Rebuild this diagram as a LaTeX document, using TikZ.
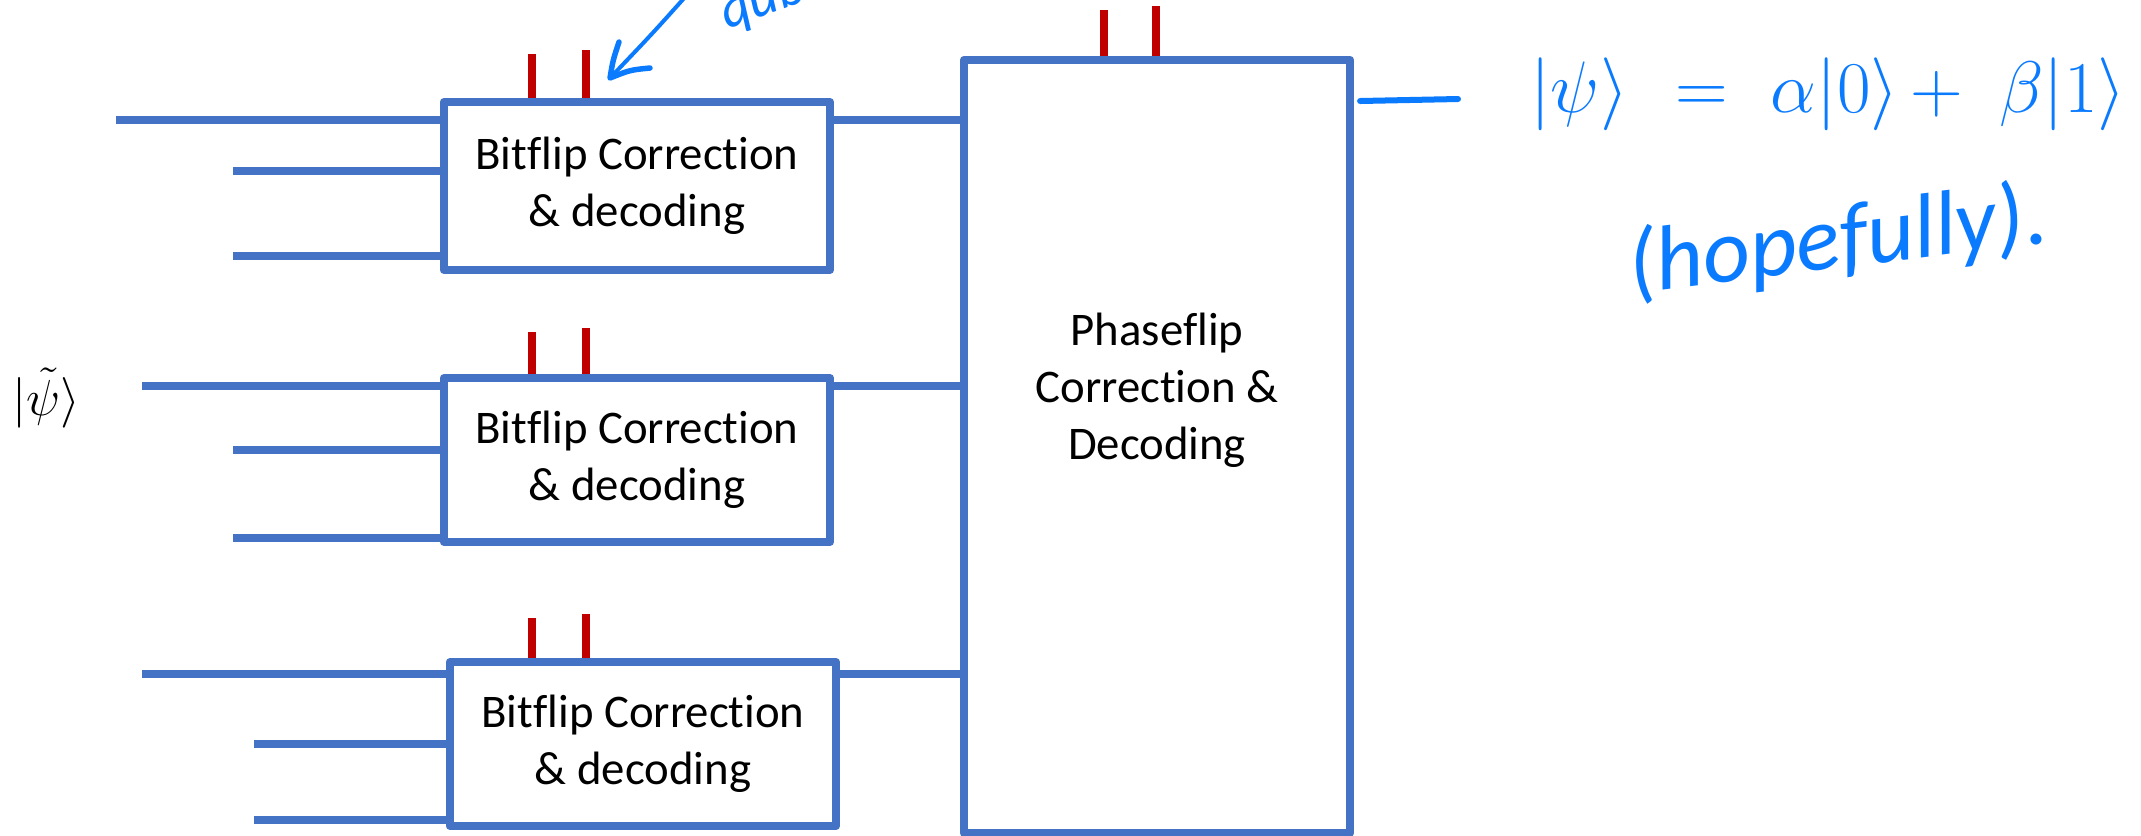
\documentclass[tikz,border=0pt]{standalone}
\usepackage{fontspec}
\setmainfont{Carlito}[Ligatures={NoCommon,NoRequired,NoContextual}]
\usetikzlibrary{calc}

\definecolor{wire}{RGB}{68,114,196}
\definecolor{meas}{RGB}{192,0,0}
\definecolor{ink}{RGB}{10,122,255}

\begin{document}
\begin{tikzpicture}[x=0.01cm,y=-0.01cm,
  wireline/.style={draw=wire,line width=0.08cm},
  blockbox/.style={draw=wire,line width=0.08cm,line join=round,fill=white,
    inner sep=0pt,outer sep=0pt,align=center,
    font=\fontsize{13.3}{16.2}\selectfont},
  classical/.style={draw=meas,line width=0.08cm},
  inkstroke/.style={draw=ink,line cap=round,line join=round},
  inktext/.style={text=ink,inner sep=0pt}]

\useasboundingbox (0,0) rectangle (2141,835);

% encoded input state
\node[anchor=base west,inner sep=0pt,font=\fontsize{15}{18}\selectfont] (psi) at (12,415) {$|\tilde{\psi}\rangle$};

% free ends of the nine input wires
\coordinate (i11) at (116,120);
\coordinate (i12) at (233,171);
\coordinate (i13) at (233,256);
\coordinate (i21) at (142,386);
\coordinate (i22) at (233,450);
\coordinate (i23) at (233,538);
\coordinate (i31) at (142,674);
\coordinate (i32) at (254,744);
\coordinate (i33) at (254,820);

% syndrome (classical) outputs, drawn under the boxes
\draw[classical] ($(637,102)+(-105,0)$) -- ++(0,-48);
\draw[classical] ($(637,102)+(-51,0)$) -- ++(0,-52);
\draw[classical] ($(637,378)+(-105,0)$) -- ++(0,-46);
\draw[classical] ($(637,378)+(-51,0)$) -- ++(0,-50);
\draw[classical] ($(643,662)+(-111,0)$) -- ++(0,-44);
\draw[classical] ($(643,662)+(-57,0)$) -- ++(0,-48);
\draw[classical] ($(1157,60)+(-53,0)$) -- ++(0,-50);
\draw[classical] ($(1157,60)+(-1,0)$) -- ++(0,-54);

% correction blocks
\node[blockbox,minimum width=3.86cm,minimum height=1.68cm] (b1) at (637,186) {Bitflip Correction\\\& decoding};
\node[blockbox,minimum width=3.86cm,minimum height=1.64cm] (b2) at (637,460) {Bitflip Correction\\\& decoding};
\node[blockbox,minimum width=3.86cm,minimum height=1.64cm] (b3) at (643,744) {Bitflip Correction\\\& decoding};
\node[blockbox,minimum width=3.86cm,minimum height=7.73cm] (pf) at (1157,446.5) {};
\node[align=center,inner sep=0pt,font=\fontsize{13.3}{16.2}\selectfont] (pftext) at (1157,390) {Phaseflip\\Correction \&\\Decoding};

% qubit wires into the bitflip blocks
\foreach \w/\b in {i11/b1,i12/b1,i13/b1,i21/b2,i22/b2,i23/b2,i31/b3,i32/b3,i33/b3}
  \draw[wireline] (\w) -- (\w -| \b.west);

% decoded qubits into the phaseflip block
\draw[wireline] (b1.east |- i11) -- (pf.west |- i11);
\draw[wireline] (b2.east |- i21) -- (pf.west |- i21);
\draw[wireline] (b3.east |- i31) -- (pf.west |- i31);

% handwritten notes
\coordinate (outEnd) at (1458,99);
\draw[inkstroke,line width=0.06cm] ($(pf.east |- outEnd)+(10,2)$) -- (outEnd);
\node[inktext,anchor=base west,font=\fontsize{21}{25}\selectfont] (state) at (1530,112)
  {$|\psi\rangle\hspace{0.47cm}{=}\hspace{0.43cm}\alpha|0\rangle\hspace{0.12cm}{+}\hspace{0.36cm}\beta|1\rangle$};
\node[inktext,rotate=7,font=\fontsize{26}{30}\selectfont\itshape] (hope) at (1838,242) {(hopefully).};

\coordinate (arrTail) at (686,-4);
\coordinate (arrTip) at (610,78);
\draw[inkstroke,line width=0.04cm] (arrTail) .. controls (652,34) .. (arrTip);
\draw[inkstroke,line width=0.055cm] (619,42) .. controls (613,60) .. (arrTip) .. controls (630,70) .. (650,68);
\node[inktext,anchor=base west,rotate=20,font=\fontsize{16}{19}\selectfont\itshape] (qlabel) at (727,30) {qub};

\end{tikzpicture}
\end{document}
